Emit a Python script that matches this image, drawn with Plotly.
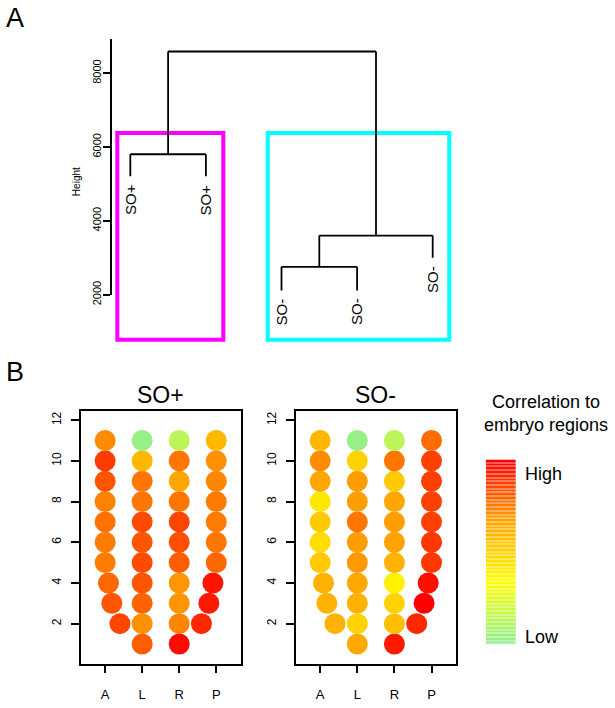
import plotly.graph_objects as go

# ---------------- data ----------------
# Dendrogram (panel A)
leaf_labels = ["SO+", "SO+", "SO-", "SO-", "SO-"]
leaf_pos = [1, 2, 3, 4, 5]
leaf_heights = [5210, 5210, 2115, 2115, 3000]
# merges: node ids 0-4 are leaves, 5.. are merges in order
merge_a = [0, 2, 6, 5]
merge_b = [1, 3, 4, 7]
merge_h = [5803, 2755, 3600, 8587]
height_ticks = [2000, 4000, 6000, 8000]

# Panel B
regions = ["A", "L", "R", "P"]
row_ticks = [2, 4, 6, 8, 10, 12]
rows_full = [1, 2, 3, 4, 5, 6, 7, 8, 9, 10, 11]
rows_edge = [2, 3, 4, 5, 6, 7, 8, 9, 10, 11]
x_A = [1.40, 1.18, 1.09, 1, 1, 1, 1, 1, 1, 1]
x_L = [2] * 11
x_R = [3] * 11
x_P = [3.60, 3.80, 3.91, 4, 4, 4, 4, 4, 4, 4]

so_plus_A = [0.86, 0.83, 0.79, 0.75, 0.75, 0.77, 0.74, 0.83, 0.88, 0.72]
so_plus_L = [0.81, 0.71, 0.80, 0.83, 0.85, 0.83, 0.85, 0.76, 0.76, 0.60, 0.02]
so_plus_R = [0.98, 0.73, 0.70, 0.70, 0.81, 0.84, 0.86, 0.76, 0.66, 0.76, 0.13]
so_plus_P = [0.92, 0.95, 0.96, 0.79, 0.76, 0.75, 0.75, 0.73, 0.71, 0.60]

so_minus_A = [0.62, 0.62, 0.62, 0.53, 0.46, 0.53, 0.42, 0.66, 0.72, 0.60]
so_minus_L = [0.65, 0.50, 0.62, 0.65, 0.69, 0.68, 0.76, 0.68, 0.68, 0.50, 0.02]
so_minus_R = [0.95, 0.57, 0.50, 0.38, 0.62, 0.67, 0.68, 0.66, 0.53, 0.76, 0.13]
so_minus_P = [0.92, 1.00, 0.97, 0.89, 0.89, 0.87, 0.87, 0.87, 0.87, 0.78]

legend_levels = list(range(50))

colorscale = [[0.0, "#90EE90"], [1/3, "#FFFF00"], [2/3, "#FFA500"], [1.0, "#FF0000"]]

# ---------------- helpers ----------------
W, H = 615, 708
def px_x(p):
    return p / W
def px_y(p):
    return 1 - p / H

FONT = "Liberation Sans, Arial, Helvetica, sans-serif"

fig = go.Figure()

# ---------------- dendrogram ----------------
node_x = list(leaf_pos)
node_top = list(leaf_heights)
lx, ly = [], []
for a, b, h in zip(merge_a, merge_b, merge_h):
    for c in (a, b):
        lx += [node_x[c], node_x[c], None]
        ly += [node_top[c], h, None]
    lx += [node_x[a], node_x[b], None]
    ly += [h, h, None]
    node_x.append((node_x[a] + node_x[b]) / 2)
    node_top.append(h)

fig.add_trace(go.Scatter(x=lx, y=ly, mode="lines", line=dict(color="black", width=1.8),
                         xaxis="x", yaxis="y", hoverinfo="skip", showlegend=False))

for xp, hp, lab in zip(leaf_pos, leaf_heights, leaf_labels):
    fig.add_annotation(x=xp, y=hp, xref="x", yref="y", text=lab, showarrow=False,
                       textangle=-90, xanchor="center", yanchor="top", yshift=-6,
                       font=dict(size=15, color="black", family=FONT))

# ---------------- panel B ----------------
def add_panel(vals, xa, ya):
    A, L, R, P = vals
    xs = x_A + x_L + x_R + x_P
    ys = rows_edge + rows_full + rows_full + rows_edge
    cs = A + L + R + P
    fig.add_trace(go.Scatter(x=xs, y=ys, mode="markers", xaxis=xa, yaxis=ya,
                             marker=dict(size=21, color=cs, colorscale=colorscale,
                                         cmin=0, cmax=1, line=dict(width=0), opacity=1),
                             hoverinfo="skip", showlegend=False))

add_panel([so_plus_A, so_plus_L, so_plus_R, so_plus_P], "x2", "y2")
add_panel([so_minus_A, so_minus_L, so_minus_R, so_minus_P], "x3", "y3")

# colour legend
fig.add_trace(go.Heatmap(z=[[v] for v in legend_levels], x=[0], y=legend_levels,
                         colorscale=colorscale, showscale=False, ygap=0.7,
                         xaxis="x4", yaxis="y4", hoverinfo="skip"))

# ---------------- layout ----------------
leaf_sp = 75.6
x0_px = 111.7
x_lo = 1 - (130.3 - x0_px) / leaf_sp
x_hi = 1 + (470 - 130.3) / leaf_sp

panel_x = dict(range=[0.34, 4.66], tickvals=[1, 2, 3, 4], ticktext=regions,
               showline=True, linecolor="black", linewidth=1.8, mirror=True,
               ticks="outside", ticklen=8, tickwidth=1.5, tickcolor="black",
               showgrid=False, zeroline=False, ticklabelstandoff=10,
               tickfont=dict(size=13, color="black", family=FONT), fixedrange=True)
panel_y = dict(range=[0.04, 12.46], tickvals=row_ticks,
               showline=True, linecolor="black", linewidth=1.8, mirror=True,
               ticks="outside", ticklen=8, tickwidth=1.5, tickcolor="black",
               showgrid=False, zeroline=False, tickangle=-90, ticklabelstandoff=5,
               tickfont=dict(size=12, color="black", family=FONT), fixedrange=True,
               domain=[px_y(674), px_y(417.3)])

fig.update_layout(
    width=W, height=H, margin=dict(l=0, r=0, t=0, b=0),
    paper_bgcolor="white", plot_bgcolor="rgba(0,0,0,0)",
    font=dict(family=FONT, color="black"),
    showlegend=False,
    xaxis=dict(domain=[px_x(x0_px), px_x(470)], range=[x_lo, x_hi], visible=False, fixedrange=True),
    yaxis=dict(domain=[px_y(299.3), px_y(40)], range=[2000, 2000 + 259.3 / 0.0375],
               anchor="x", showline=True, linecolor="black", linewidth=2,
               ticks="outside", ticklen=7, tickwidth=1.5, tickcolor="black",
               tickvals=height_ticks, tickangle=-90, showgrid=False, zeroline=False,
               ticklabelstandoff=-3,
               tickfont=dict(size=11, color="black", family=FONT), fixedrange=True),
    xaxis2=dict(domain=[px_x(80.7), px_x(240.7)], anchor="y2", **panel_x),
    yaxis2=dict(anchor="x2", **panel_y),
    xaxis3=dict(domain=[px_x(295.7), px_x(456)], anchor="y3", **panel_x),
    yaxis3=dict(anchor="x3", **panel_y),
    xaxis4=dict(domain=[px_x(485.7), px_x(516)], anchor="y4", range=[-0.5, 0.5],
                visible=False, fixedrange=True),
    yaxis4=dict(domain=[px_y(655), px_y(466.7)], anchor="x4",
                range=[-0.5, len(legend_levels) - 0.5], visible=False, fixedrange=True),
)

# cluster boxes
fig.add_shape(type="rect", xref="paper", yref="paper",
              x0=px_x(117.3), x1=px_x(223.3), y0=px_y(345), y1=px_y(135),
              line=dict(color="#FF00FF", width=4), layer="below")
fig.add_shape(type="rect", xref="paper", yref="paper",
              x0=px_x(267.7), x1=px_x(449.3), y0=px_y(345), y1=px_y(135),
              line=dict(color="#00FFFF", width=4), layer="below")

def ann(text, xp, yp, size, angle=0, xanchor="center"):
    fig.add_annotation(x=px_x(xp), y=px_y(yp), xref="paper", yref="paper", text=text,
                       showarrow=False, textangle=angle, xanchor=xanchor, yanchor="middle",
                       font=dict(size=size, color="black", family=FONT))

ann("A", 15, 18, 27)
ann("B", 15, 378, 27)
ann("Height", 76, 185, 10, angle=-90)
ann("SO+", 160.7, 401, 23)
ann("SO-", 375.9, 401, 23)
ann("Correlation to", 546, 408, 18)
ann("embryo regions", 546, 432, 18)
ann("High", 523, 481, 18, xanchor="left")
ann("Low", 523, 647, 18, xanchor="left")

post = (
    "var d=document.documentElement,b=document.body;"
    "d.style.margin='0';d.style.padding='0';d.style.height='708px';d.style.overflow='hidden';"
    "b.style.margin='0';b.style.padding='0';b.style.height='708px';b.style.overflow='hidden';"
)
fig.write_html("out.html", config={"displayModeBar": False}, post_script=post)
